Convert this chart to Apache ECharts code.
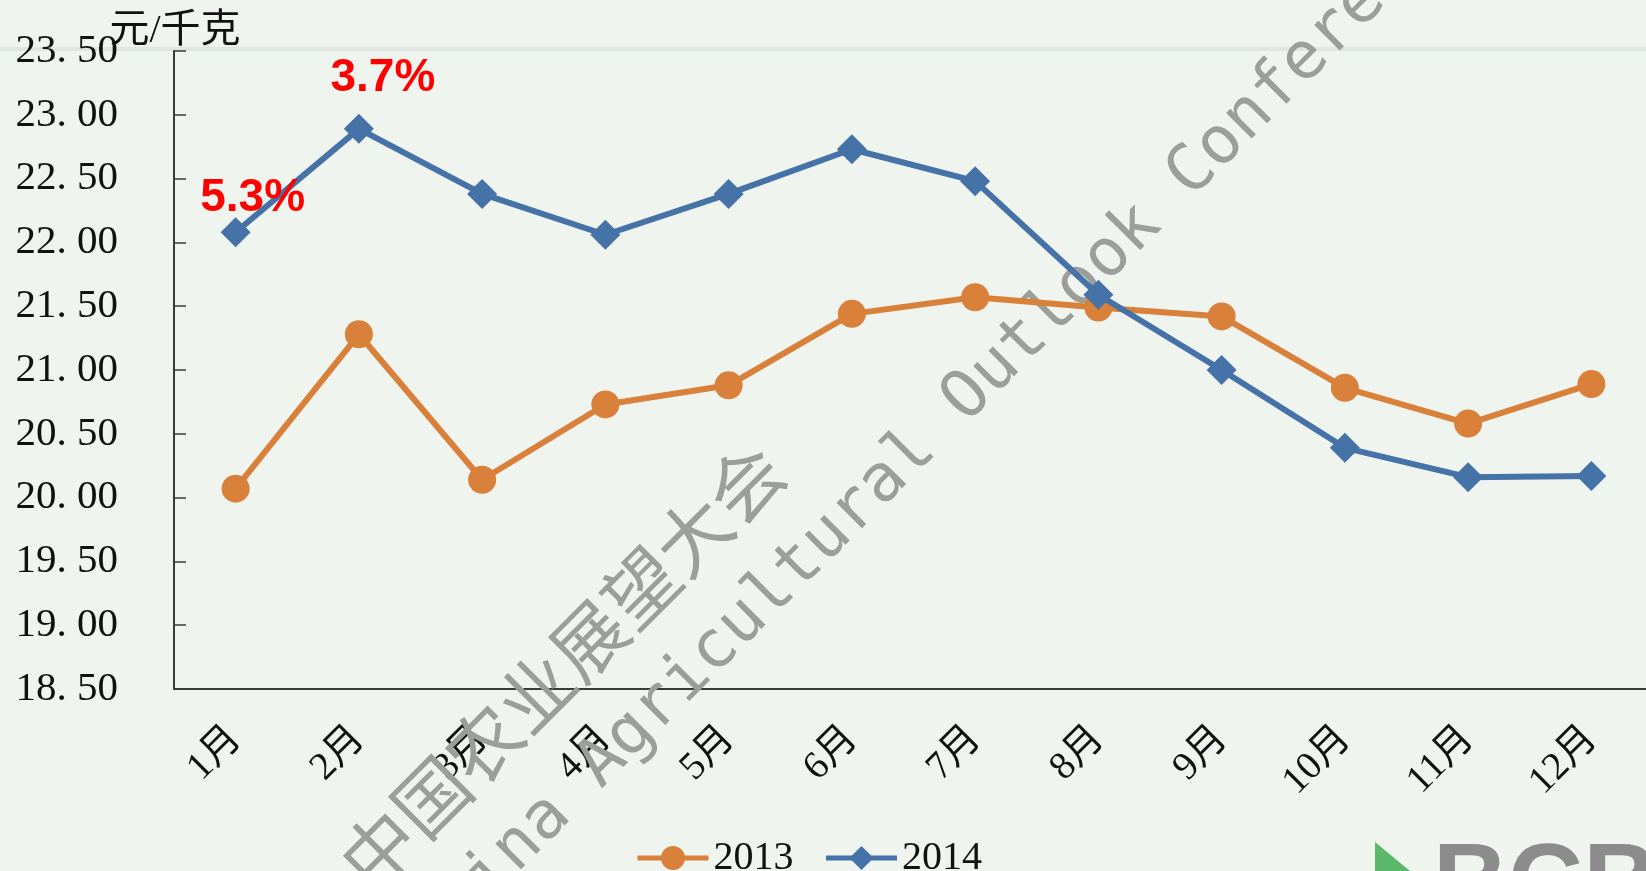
<!DOCTYPE html>
<html>
<head>
<meta charset="utf-8">
<script src="https://cdn.jsdelivr.net/npm/echarts@6/dist/echarts.min.js"></script>
<style>
  html, body { margin: 0; padding: 0; background: #eff4ef; }
  #chart { width: 1646px; height: 871px; }
</style>
</head>
<body>
<div id="chart"></div>
<script>
// monthly prices, yuan per kg
const months = ["1月", "2月", "3月", "4月", "5月", "6月", "7月", "8月", "9月", "10月", "11月", "12月"];
const price2013 = [20.07, 21.28, 20.14, 20.73, 20.88, 21.44, 21.57, 21.49, 21.42, 20.86, 20.58, 20.89];
const price2014 = [22.08, 22.89, 22.38, 22.06, 22.38, 22.73, 22.48, 21.59, 21.00, 20.39, 20.16, 20.17];
// year-on-year growth notes shown above the first 2014 points
const growthNotes = ["5.3%", "3.7%"];
const noteOffsets = [[17, 4], [24, -13]];

const serif = "'Liberation Serif', 'Noto Sans CJK SC', serif";
const orange = "#d9803a";
const blue = "#4572a7";
const axisColor = "#3a3a3a";
const watermark = "#9c9e9c";

const chart = echarts.init(document.getElementById("chart"));

const data2014 = price2014.map((v, i) => {
  if (i >= growthNotes.length) return v;
  return {
    value: v,
    label: {
      show: true,
      position: "top",
      distance: 0,
      offset: noteOffsets[i],
      formatter: growthNotes[i],
      color: "#ff0000",
      fontSize: 46,
      fontWeight: "bold",
      fontFamily: "'Liberation Sans', Arial, sans-serif",
    },
  };
});

chart.setOption({
  backgroundColor: "#eff4ef",
  animation: false,
  grid: { left: 174, right: -7, top: 51, bottom: 182, outerBoundsMode: "none", containLabel: false },
  legend: {
    left: 630,
    top: 833,
    itemGap: 30,
    itemWidth: 71,
    itemHeight: 30,
    lineStyle: { width: 5 },
    textStyle: { color: "#111", fontSize: 40, fontFamily: serif },
    data: ["2013", "2014"],
  },
  xAxis: {
    type: "category",
    data: months,
    axisLine: { lineStyle: { color: axisColor, width: 2 } },
    axisTick: { inside: true, length: 12, lineStyle: { color: axisColor, width: 1.5 } },
    axisLabel: { rotate: 45, margin: 44, color: "#111", fontSize: 39, fontFamily: serif },
  },
  yAxis: {
    type: "value",
    min: 18.5,
    max: 23.5,
    interval: 0.5,
    name: "元/千克",
    nameLocation: "end",
    nameGap: 0,
    nameMoveOverlap: false,
    nameTextStyle: { color: "#111", fontSize: 40, fontFamily: serif, padding: [0, 0, 0, 2] },
    axisLine: { show: true, lineStyle: { color: axisColor, width: 2 } },
    axisTick: { show: true, inside: true, length: 12, lineStyle: { color: axisColor, width: 1.5 } },
    axisLabel: {
      margin: 56,
      color: "#111",
      fontSize: 41,
      fontFamily: serif,
      formatter: v => v.toFixed(2).replace(".", ". "),
    },
    splitLine: { show: false },
  },
  graphic: [
    // faint slide rule behind the chart top
    { type: "rect", z: -1, shape: { x: 0, y: 47, width: 1646, height: 4 }, style: { fill: "#dfe5df" } },
    {
      type: "text", z: 1, x: 562, y: 666, rotation: Math.PI / 4,
      style: {
        text: "中国农业展望大会", fill: watermark, fontSize: 74,
        fontFamily: "'Noto Sans CJK SC', sans-serif", align: "center", verticalAlign: "middle",
      },
    },
    {
      type: "text", z: 1, x: 940, y: 426, rotation: Math.PI / 4,
      style: {
        text: "China Agricultural Outlook Conference", fill: watermark, fontSize: 66,
        fontFamily: "'DejaVu Sans Mono', monospace", align: "center", verticalAlign: "middle",
      },
    },
    { type: "polygon", z: 1, shape: { points: [[1375, 842], [1375, 871], [1410, 871]] }, style: { fill: "#5cb86a" } },
    {
      type: "text", z: 1, x: 1433, y: 835,
      style: {
        text: "BCB", fill: "#8c8c8c", fontSize: 104, fontWeight: "bold",
        fontFamily: "'Liberation Sans', Arial, sans-serif", verticalAlign: "top",
      },
    },
  ],
  series: [
    {
      name: "2013",
      type: "line",
      data: price2013,
      symbol: "circle",
      symbolSize: 28,
      lineStyle: { color: orange, width: 6 },
      itemStyle: { color: orange },
      z: 3,
    },
    {
      name: "2014",
      type: "line",
      data: data2014,
      symbol: "diamond",
      symbolSize: 30,
      lineStyle: { color: blue, width: 6 },
      itemStyle: { color: blue },
      z: 4,
    },
  ],
});
</script>
</body>
</html>
